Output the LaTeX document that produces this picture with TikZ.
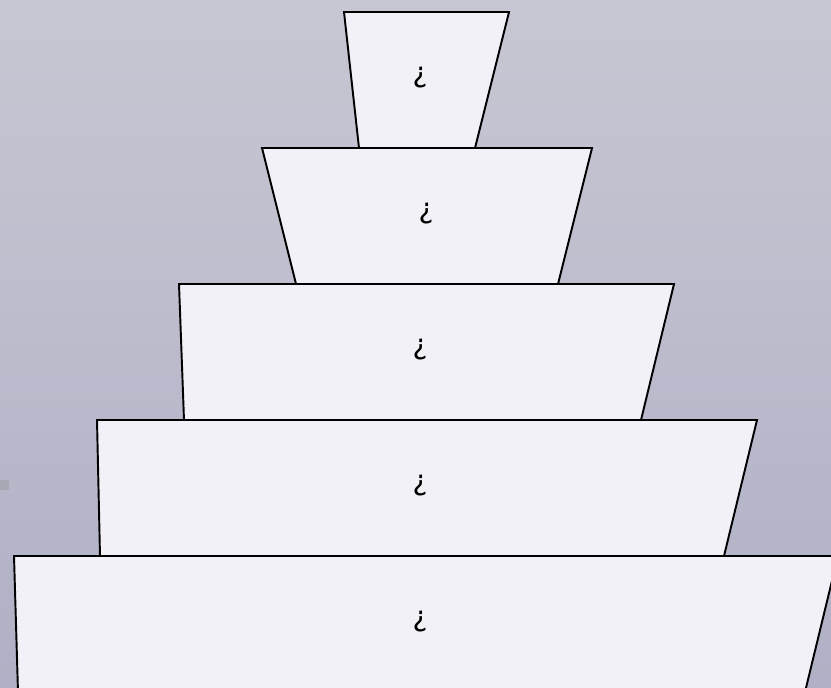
\documentclass[tikz,border=0pt]{standalone}
\usepackage{fontspec}
\setmainfont{DejaVu Sans}
\usepackage{tikz}
\usetikzlibrary{positioning,calc}
\usepackage{xcolor}
\definecolor{bgtop}{RGB}{199,199,211}
\definecolor{bgbottom}{RGB}{176,176,198}
\definecolor{tierfill}{RGB}{241,241,247}
\definecolor{markgray}{RGB}{168,168,180}
\tikzset{
    tier/.style={draw=black, fill=tierfill, line width=1.1pt, line join=miter},
    tierlabel/.style={font=\fontsize{16}{19}\selectfont, inner sep=0pt},
}

\begin{document}
\begin{tikzpicture}[x=0.02cm, y=-0.02cm]
    % canvas
    \useasboundingbox (0,0) rectangle (831,688);
    \clip (0,0) rectangle (831,688);
    \shade[top color=bgtop, bottom color=bgbottom] (0,0) rectangle (831,688);
    \fill[markgray] (0,480) rectangle (9,490);

    % tiers: top y / top left / top right / bottom left / bottom right / label x
    \foreach \n/\ty/\tl/\tr/\bl/\br/\lx in {
        1/12/344/509/359/475/420,
        2/148/262/592/296/558/426,
        3/284/179/674/184/641/420,
        4/420/97/757/100/724/420,
        5/556/14/838/18/805/420} {
        \draw[tier] (\tl,\ty) -- (\tr,\ty) -- (\br,\ty+136) -- (\bl,\ty+136) -- cycle;
        \node[tierlabel] (t\n) at (\lx,\ty+66) {¿};
    }
\end{tikzpicture}
\end{document}
